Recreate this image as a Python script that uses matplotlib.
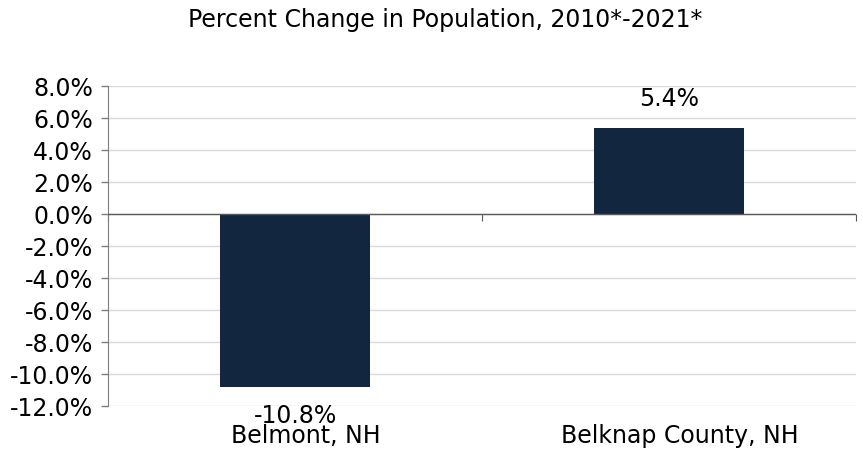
import matplotlib
matplotlib.use("Agg")
import matplotlib.pyplot as plt
import matplotlib.transforms as mtransforms
from matplotlib.ticker import FuncFormatter

plt.rcParams["font.family"] = ["DejaVu Sans"]

categories = ["Belmont, NH", "Belknap County, NH"]
values = [-10.8, 5.4]
value_labels = ["-10.8%", "5.4%"]
yticks = [-12, -10, -8, -6, -4, -2, 0, 2, 4, 6, 8]
title = "Percent Change in Population, 2010*-2021*"

FS = 17

fig = plt.figure(figsize=(8.63, 4.51), dpi=100)
ax = fig.add_axes([108/863, 1-406/451, (856-108)/863, (406-86)/451])

x = list(range(len(categories)))
ax.bar(x, values, width=0.4, color="#13263F", zorder=3)

ax.set_xlim(-0.5, 1.5)
ax.set_ylim(-12, 8)
ax.set_yticks(yticks)
ax.yaxis.set_major_formatter(FuncFormatter(lambda v, p: f"{v:.1f}%"))
ax.tick_params(axis="y", labelsize=FS, length=5, width=1, pad=5.8,
               colors="#7f7f7f", labelcolor="black")
ax.grid(axis="y", color="#d9d9d9", linewidth=1, zorder=0)

for s in ["top", "right", "bottom"]:
    ax.spines[s].set_visible(False)
ax.spines["left"].set_color("#7f7f7f")

ax.set_xticks(x)
ax.set_xticklabels(categories, fontsize=FS)
ax.tick_params(axis="x", length=0, pad=26.6)
shift = mtransforms.ScaledTranslation(11/100, 0, fig.dpi_scale_trans)
for lbl in ax.get_xticklabels():
    lbl.set_verticalalignment("baseline")
    lbl.set_transform(lbl.get_transform() + shift)

ax.axhline(0, color="#595959", linewidth=1, zorder=4)
sec = ax.secondary_xaxis(12/20)
sec.set_xticks([-0.5, 0.5, 1.5])
sec.set_xticklabels([])
sec.tick_params(axis="x", direction="in", length=5, color="#595959")
for s in sec.spines.values():
    s.set_visible(False)

for xi, v, lab in zip(x, values, value_labels):
    off = 15.6 if v >= 0 else -26.1
    ax.annotate(lab, (xi, v), xytext=(0, off), textcoords="offset points",
                ha="center", va="baseline", fontsize=FS)

fig.text(445/863, 1-27/451, title, ha="center", va="baseline", fontsize=FS)

fig.savefig("out.png", dpi=100)
